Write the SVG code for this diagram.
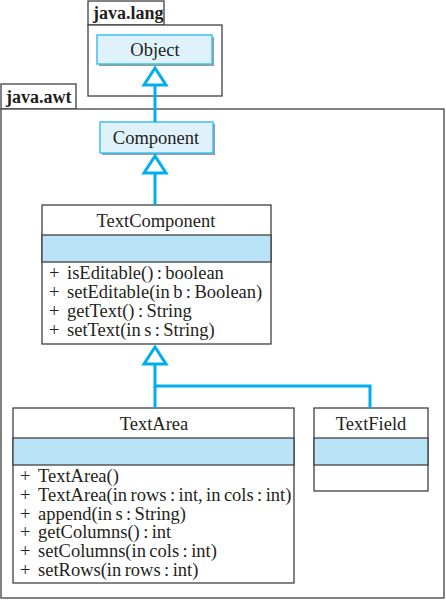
<svg xmlns="http://www.w3.org/2000/svg" width="446" height="600" viewBox="0 0 446 600">
<defs>
<style>
.pkg{fill:#fff;stroke:#404040;stroke-width:1.3}
.box{fill:#fff;stroke:#404040;stroke-width:1.3}
.attr{fill:#b9e4f8;stroke:#404040;stroke-width:1.3}
.ext{fill:#dff2fc;stroke:#3cc3f0;stroke-width:1.5}
.shadow{fill:#9a9a9a}
.t{font-family:"Liberation Serif","Times New Roman",serif;font-size:18.5px;fill:#231f20}
.m{word-spacing:-1.2px}
.c{text-anchor:middle}
.b{font-weight:bold;font-size:18px}
.conn{stroke:#00aeef;stroke-width:3;fill:none}
.tri{stroke:#00aeef;stroke-width:3;fill:#fff}
</style>
</defs>
<g id="pkg-java-lang">
<rect class="pkg" x="88" y="1" width="76" height="24"/>
<rect class="pkg" x="88" y="25" width="134" height="71"/>
<text class="t b" x="93" y="19">java.lang</text>
</g>
<g id="pkg-java-awt">
<rect class="pkg" x="1" y="84" width="75" height="25"/>
<rect class="pkg" x="1" y="109" width="443" height="489"/>
<text class="t b" x="6" y="103">java.awt</text>
</g>
<g id="Object">
<rect class="shadow" x="99" y="37" width="115" height="29"/>
<rect class="ext" x="97" y="35" width="115" height="29"/>
<text class="t c" x="155" y="56">Object</text>
</g>
<g id="Component">
<rect class="shadow" x="102" y="124" width="113" height="31"/>
<rect class="ext" x="100" y="122" width="113" height="31"/>
<text class="t c" x="156" y="144">Component</text>
</g>
<g id="TextComponent">
<rect class="box" x="42" y="205" width="229" height="139"/>
<rect class="attr" x="42" y="235" width="229" height="27"/>
<text class="t c" x="156" y="227">TextComponent</text>
<text class="t" x="49" y="279">+</text><text class="t m" x="67" y="279">isEditable() : boolean</text>
<text class="t" x="49" y="298">+</text><text class="t m" x="67" y="298">setEditable(in b : Boolean)</text>
<text class="t" x="49" y="317">+</text><text class="t m" x="67" y="317">getText() : String</text>
<text class="t" x="49" y="336">+</text><text class="t m" x="67" y="336">setText(in s : String)</text>
</g>
<g id="TextArea">
<rect class="box" x="13" y="408" width="281" height="175"/>
<rect class="attr" x="13" y="438" width="281" height="27"/>
<text class="t c" x="154" y="430">TextArea</text>
<text class="t" x="20" y="482">+</text><text class="t m" x="38" y="482">TextArea()</text>
<text class="t" x="20" y="500.8">+</text><text class="t m" x="38" y="500.8">TextArea(in rows : int, in cols : int)</text>
<text class="t" x="20" y="519.6">+</text><text class="t m" x="38" y="519.6">append(in s : String)</text>
<text class="t" x="20" y="538.4">+</text><text class="t m" x="38" y="538.4">getColumns() : int</text>
<text class="t" x="20" y="557.2">+</text><text class="t m" x="38" y="557.2">setColumns(in cols : int)</text>
<text class="t" x="20" y="576">+</text><text class="t m" x="38" y="576">setRows(in rows : int)</text>
</g>
<g id="TextField">
<rect class="box" x="314" y="408" width="114" height="83"/>
<rect class="attr" x="314" y="438" width="114" height="27"/>
<text class="t c" x="371" y="430">TextField</text>
</g>
<g id="connectors">
<line class="conn" x1="155" y1="86" x2="155" y2="122"/>
<polygon class="tri" points="155,68 144,85 166,85"/>
<line class="conn" x1="155" y1="173" x2="155" y2="205"/>
<polygon class="tri" points="155,156 144,173 166,173"/>
<polyline class="conn" points="155,364 155,386 370,386 370,408"/>
<line class="conn" x1="155" y1="386" x2="155" y2="408"/>
<polygon class="tri" points="155,347 144,364 166,364"/>
</g>
</svg>
